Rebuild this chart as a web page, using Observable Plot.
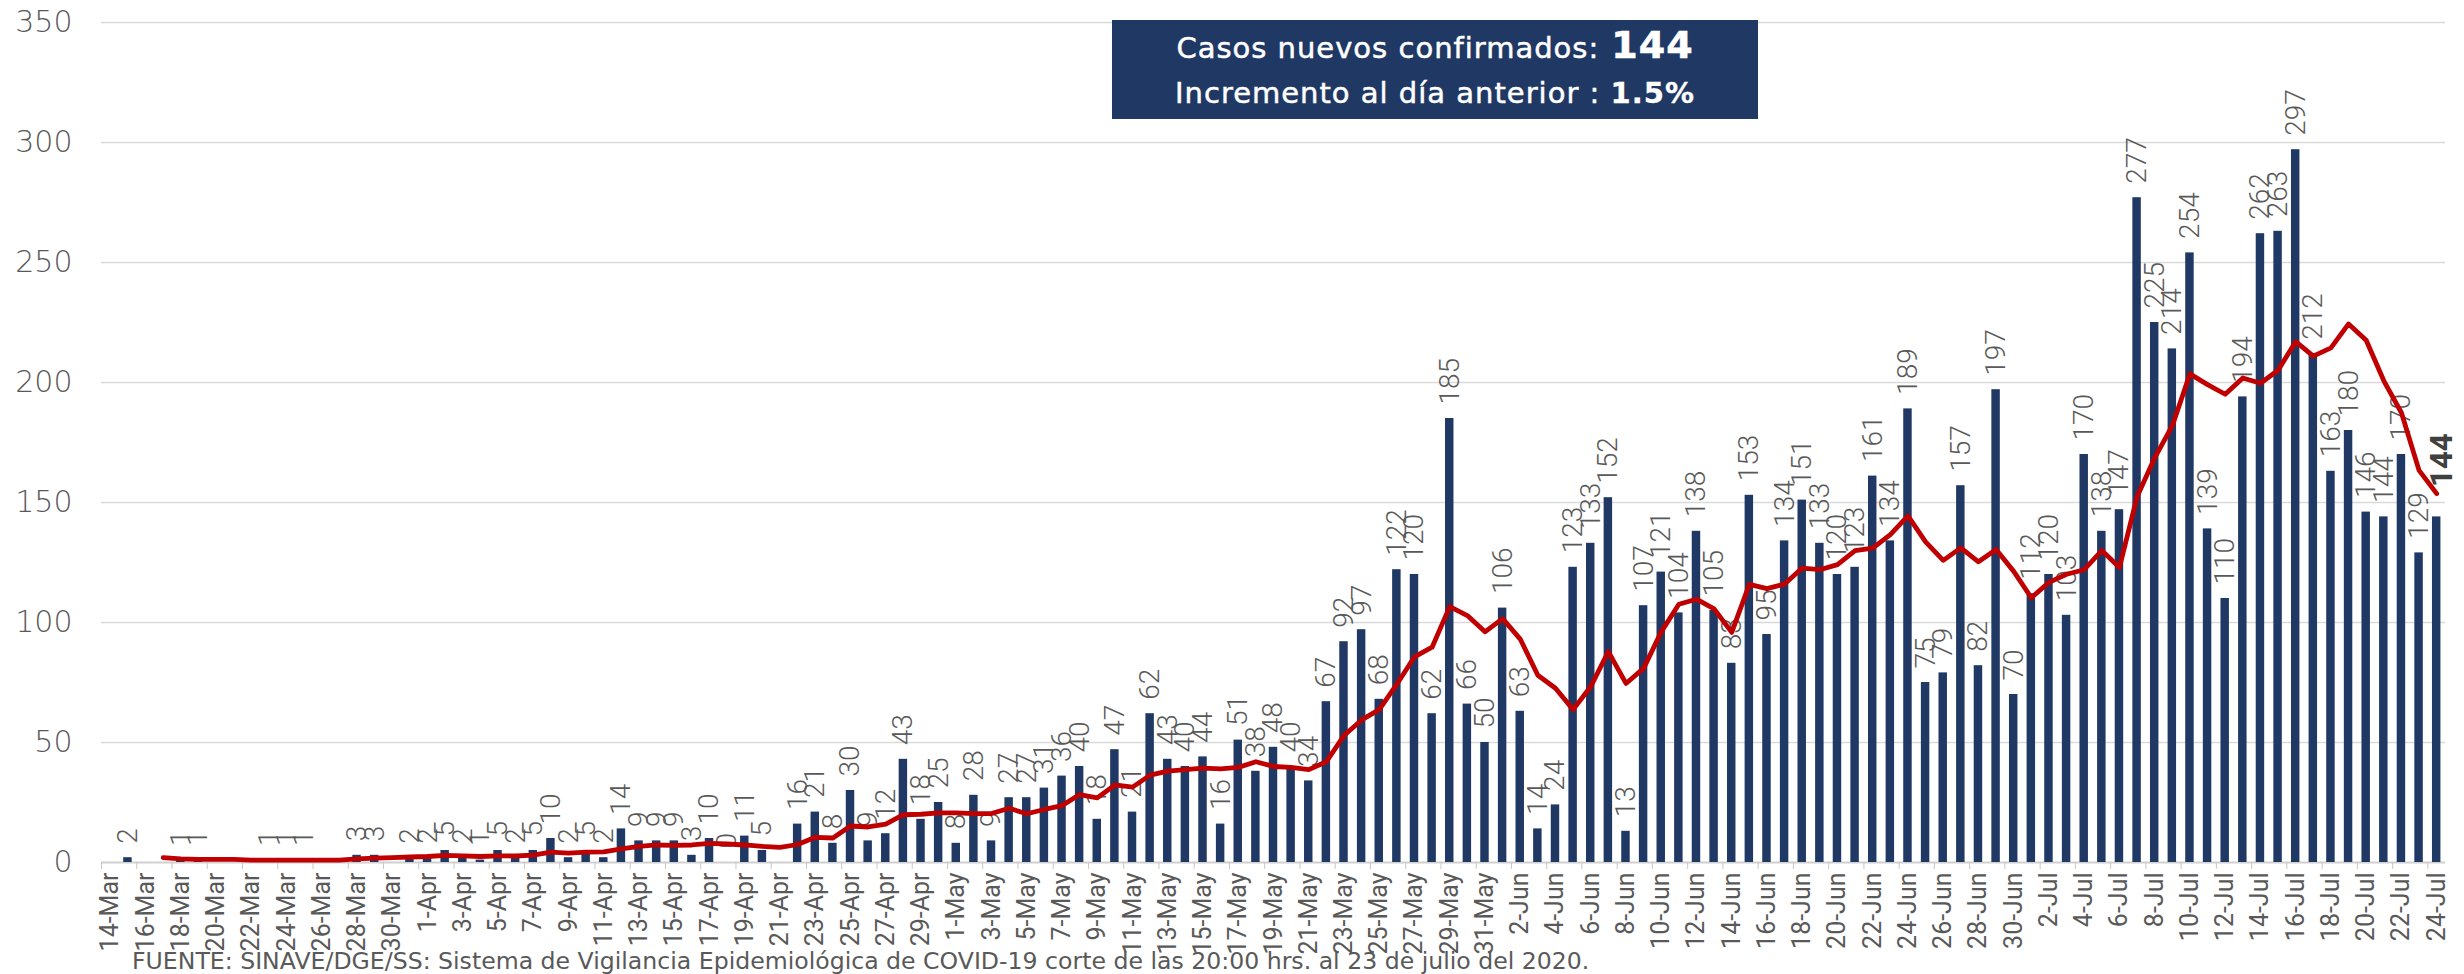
<!DOCTYPE html>
<html>
<head>
<meta charset="utf-8">
<script src="https://cdn.jsdelivr.net/npm/d3@7"></script>
<script src="https://cdn.jsdelivr.net/npm/@observablehq/plot@0.6"></script>
<style>
  html, body { margin: 0; padding: 0; background: #ffffff; }
  #wrap { position: relative; width: 2464px; height: 974px; overflow: hidden; background: #fff; }
  #chart { position: absolute; left: 0; top: 0; }
  #box { position: absolute; left: 1112px; top: 20px; width: 646px; height: 99px; background: #203864; color: #fff;
         font-family: "DejaVu Sans", sans-serif; }
  #box .l { position: absolute; left: 0; width: 646px; text-align: center; white-space: nowrap; line-height: 1; -webkit-text-stroke: 0.5px #fff; }
  #l1 { top: 6px; font-size: 29px; letter-spacing: 1px; }
  #l1 b { font-size: 38px; font-weight: 800; margin-left: 12px; -webkit-text-stroke: 0.6px #fff; }
  #l2 { top: 59px; font-size: 29px; letter-spacing: 1px; }
  #l2 b { font-weight: 700; -webkit-text-stroke: 0.3px #fff; }
  #foot { position: absolute; left: 132px; top: 950px; font-family: "DejaVu Sans", sans-serif; font-size: 23.6px;
          color: #595959; white-space: nowrap; line-height: 1; }
</style>
</head>
<body>
<div id="wrap">
  <div id="chart"></div>
  <div id="box">
    <div class="l" id="l1">Casos nuevos confirmados:<b>144</b></div>
    <div class="l" id="l2">Incremento al día anterior : <b>1.5%</b></div>
  </div>
  <div id="foot">FUENTE: SINAVE/DGE/SS: Sistema de Vigilancia Epidemiológica de COVID-19 corte de las 20:00 hrs. al 23 de julio del 2020.</div>
</div>
<script>
// Categories (one per day)
const dates = [
  "14-Mar","15-Mar","16-Mar","17-Mar","18-Mar","19-Mar","20-Mar","21-Mar","22-Mar","23-Mar","24-Mar","25-Mar","26-Mar","27-Mar","28-Mar","29-Mar","30-Mar","31-Mar",
  "1-Apr","2-Apr","3-Apr","4-Apr","5-Apr","6-Apr","7-Apr","8-Apr","9-Apr","10-Apr","11-Apr","12-Apr","13-Apr","14-Apr","15-Apr","16-Apr","17-Apr","18-Apr","19-Apr","20-Apr","21-Apr","22-Apr","23-Apr","24-Apr","25-Apr","26-Apr","27-Apr","28-Apr","29-Apr","30-Apr",
  "1-May","2-May","3-May","4-May","5-May","6-May","7-May","8-May","9-May","10-May","11-May","12-May","13-May","14-May","15-May","16-May","17-May","18-May","19-May","20-May","21-May","22-May","23-May","24-May","25-May","26-May","27-May","28-May","29-May","30-May","31-May",
  "1-Jun","2-Jun","3-Jun","4-Jun","5-Jun","6-Jun","7-Jun","8-Jun","9-Jun","10-Jun","11-Jun","12-Jun","13-Jun","14-Jun","15-Jun","16-Jun","17-Jun","18-Jun","19-Jun","20-Jun","21-Jun","22-Jun","23-Jun","24-Jun","25-Jun","26-Jun","27-Jun","28-Jun","29-Jun","30-Jun",
  "1-Jul","2-Jul","3-Jul","4-Jul","5-Jul","6-Jul","7-Jul","8-Jul","9-Jul","10-Jul","11-Jul","12-Jul","13-Jul","14-Jul","15-Jul","16-Jul","17-Jul","18-Jul","19-Jul","20-Jul","21-Jul","22-Jul","23-Jul","24-Jul"
];

// Daily new confirmed cases (null = no data point)
const casos = [
  null,2,null,null,1,1,null,null,null,1,1,1,null,null,3,3,null,2,
  2,5,2,1,5,2,5,10,2,5,2,14,9,9,9,3,10,0,11,5,null,16,21,8,30,9,12,43,18,25,
  8,28,9,27,27,31,36,40,18,47,21,62,43,40,44,16,51,38,48,40,34,67,92,97,68,122,120,62,185,66,50,
  106,63,14,24,123,133,152,13,107,121,104,138,105,83,153,95,134,151,133,120,123,161,134,189,75,79,157,82,197,70,
  112,120,103,170,138,147,277,225,214,254,139,110,194,262,263,297,212,163,180,146,144,170,129,144
];

// Red trend line
const promedio = [
  null,null,null,2.0,1.5,1.3,1.3,1.3,1.0,1.0,1.0,1.0,1.0,1.0,1.5,1.8,2.0,2.3,
  2.5,3.0,2.8,2.5,2.8,2.7,3.1,4.3,3.9,4.3,4.4,5.7,6.7,7.3,7.1,7.3,8.0,7.7,7.3,6.7,6.3,7.5,10.5,10.2,15.2,14.8,16.0,19.9,20.1,20.7,
  20.7,20.4,20.4,22.6,20.3,22.1,23.7,28.3,26.9,32.3,31.4,36.4,38.1,38.7,39.3,39.0,39.6,42.0,40.0,39.6,38.7,42.0,52.9,59.4,63.7,74.3,85.7,89.7,106.6,102.9,96.1,
  101.6,93.1,78.0,72.6,63.7,73.3,87.9,74.6,80.9,96.1,107.6,109.7,105.7,95.9,115.9,114.1,116.0,122.7,122.0,124.1,129.9,131.0,136.6,144.4,133.6,125.9,131.1,125.3,130.4,121.3,
  110.3,116.7,120.1,122.0,130.0,122.9,152.4,168.6,182.0,203.6,199.1,195.1,201.9,199.7,205.1,217.0,211.0,214.4,224.4,217.6,200.7,187.4,163.4,153.7
];

// Axis ticks
const yTicks = [0, 50, 100, 150, 200, 250, 300, 350];
const xTicks = dates.filter((d, i) => i % 2 === 0);

const rows = dates.map((d, i) => ({date: d, v: casos[i], ma: promedio[i], last: i === dates.length - 1}));
const barRows = rows.filter(r => r.v != null);
const labelRows = barRows.filter(r => !r.last);
const lastRow = rows.filter(r => r.last);
const maRows = rows.filter(r => r.ma != null);

const step = (2464 - 101 - 19) / dates.length;

const chart = Plot.plot({
  width: 2464,
  height: 974,
  marginLeft: 101,
  marginRight: 19,
  marginTop: 22,
  marginBottom: 112,
  style: {background: "transparent", color: "#595959"},
  x: {type: "band", domain: dates, paddingInner: 0.52, paddingOuter: 0.26, axis: null, label: null},
  y: {domain: [0, 350], axis: null, label: null},
  marks: [
    Plot.ruleY(yTicks.filter(t => t > 0), {stroke: "#D9D9D9", strokeWidth: 1.5}),
    Plot.ruleY([0], {stroke: "#D0D0D0", strokeWidth: 2}),
    Plot.axisX({ticks: xTicks, tickSize: 7, tickFormat: () => "", label: null, dx: -step / 2, stroke: "#C8C8C8"}),
    Plot.axisX({ticks: xTicks, tickSize: 0, tickPadding: 10, tickRotate: -90, label: null, fontSize: 25, fontFamily: "Roboto, sans-serif", color: "#595959"}),
    Plot.axisY({ticks: yTicks, tickSize: 0, tickPadding: 29, label: null, fontSize: 30, fontWeight: 300, fontFamily: "DejaVu Sans, sans-serif", color: "#595959", letterSpacing: 1}),
    Plot.barY(barRows, {x: "date", y: "v", fill: "#203864"}),
    Plot.text(labelRows, {x: "date", y: "v", text: d => String(d.v), rotate: -90, textAnchor: "start", lineAnchor: "middle",
      dy: -14, fontSize: 28, fontFamily: "Roboto, sans-serif", fontWeight: 300, fill: "#595959"}),
    Plot.text(lastRow, {x: "date", y: "v", text: d => String(d.v), rotate: -90, textAnchor: "start", lineAnchor: "middle",
      dy: -30, dx: 5, fontSize: 31, fontFamily: "Roboto, sans-serif", fontWeight: 700, fill: "#404040"}),
    Plot.lineY(maRows, {x: "date", y: "ma", stroke: "#C00000", strokeWidth: 4.8, strokeLinejoin: "round", strokeLinecap: "round"})
  ]
});
document.getElementById("chart").appendChild(chart);
</script>
</body>
</html>
